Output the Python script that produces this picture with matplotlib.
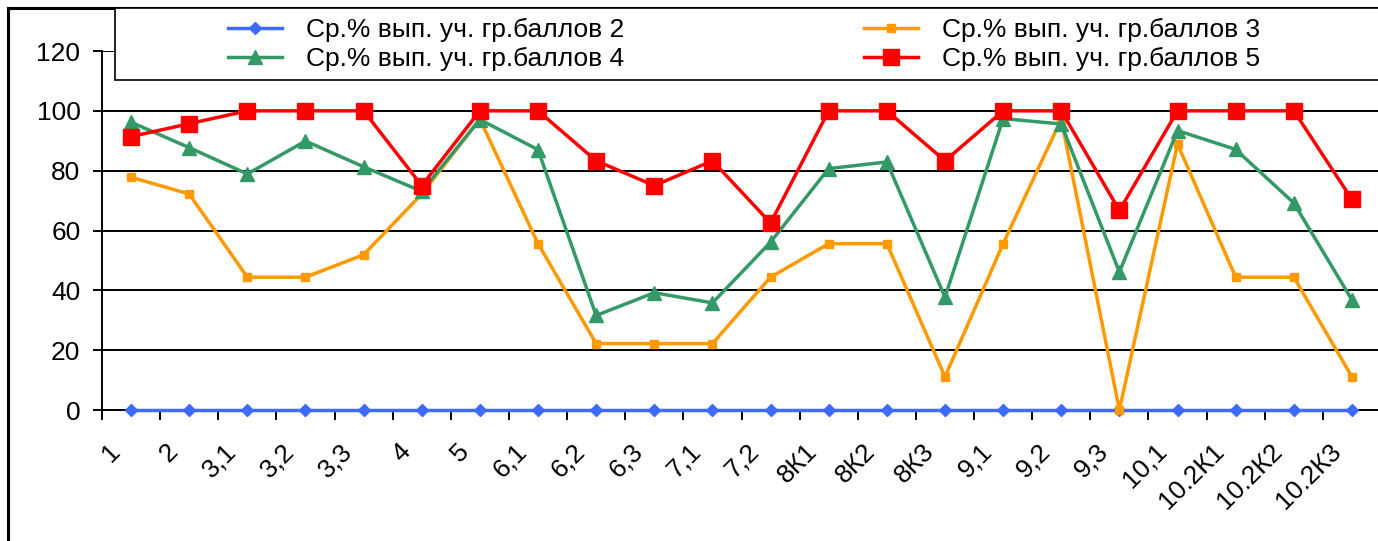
import matplotlib.pyplot as plt
import matplotlib.patches as mpatches
import matplotlib.transforms as mtransforms
import numpy as np

plt.rcParams['font.family'] = ['Liberation Sans', 'DejaVu Sans']

# Категории (задания)
zadaniya = ['1', '2', '3,1', '3,2', '3,3', '4', '5', '6,1', '6,2', '6,3', '7,1', '7,2',
            '8К1', '8К2', '8К3', '9,1', '9,2', '9,3', '10,1', '10.2К1', '10.2К2', '10.2К3']

# Ср.% выполнения по группам баллов
gr_2 = [0, 0, 0, 0, 0, 0, 0, 0, 0, 0, 0, 0, 0, 0, 0, 0, 0, 0, 0, 0, 0, 0]
gr_3 = [77.8, 72.2, 44.4, 44.4, 51.9, 72.2, 97.2, 55.6, 22.2, 22.2, 22.2, 44.4,
        55.6, 55.6, 11.1, 55.6, 97.2, 0, 88.9, 44.4, 44.4, 11.1]
gr_4 = [96.2, 87.7, 78.9, 89.9, 81.3, 73.1, 97.1, 87.0, 31.6, 39.2, 35.8, 56.1,
        80.7, 82.9, 37.7, 97.4, 95.6, 46.1, 93.4, 87.1, 69.2, 36.8]
gr_5 = [91.4, 95.7, 100, 100, 100, 75, 100, 100, 83.3, 75, 83.3, 62.5,
        100, 100, 83.3, 100, 100, 66.7, 100, 100, 100, 70.4]

fig = plt.figure(figsize=(13.78, 5.41), dpi=100)
ax = fig.add_axes([102 / 1378, 131 / 541, 1279 / 1378, 359 / 541])

x = np.arange(len(zadaniya))
l2, = ax.plot(x, gr_2, color='#3D6BFF', lw=2.5, marker='D', ms=6.5, label='Ср.% вып. уч. гр.баллов 2',
              zorder=3, clip_on=False)
l3, = ax.plot(x, gr_3, color='#FF9900', lw=2.5, marker='s', ms=5.5, label='Ср.% вып. уч. гр.баллов 3',
              zorder=4, clip_on=False)
l4, = ax.plot(x, gr_4, color='#339966', lw=2.5, marker='^', ms=10, label='Ср.% вып. уч. гр.баллов 4',
              zorder=5, clip_on=False)
l5, = ax.plot(x, gr_5, color='#FF0000', lw=2.5, marker='s', ms=11, label='Ср.% вып. уч. гр.баллов 5',
              zorder=6, clip_on=False)

ax.set_xlim(-0.5, len(zadaniya) - 0.5)
ax.set_ylim(0, 120)
ax.set_yticks(range(0, 121, 20))
ax.yaxis.grid(True, color='black', lw=1.4)
ax.set_axisbelow(True)
for s in ['top', 'right']:
    ax.spines[s].set_visible(False)
for s in ['left', 'bottom']:
    ax.spines[s].set_linewidth(1.4)

ax.set_xticks(x)
ax.set_xticklabels(zadaniya, rotation=45, ha='right', va='center', rotation_mode='anchor')
ax.set_xticks(np.arange(-0.5, len(zadaniya), 1), minor=True)
ax.tick_params(axis='x', which='major', length=0, pad=27, labelsize=19)
ax.tick_params(axis='x', which='minor', length=7, width=1.4, direction='out')
ax.tick_params(axis='y', length=6.5, width=1.4, labelsize=19, pad=9)
shift = mtransforms.ScaledTranslation(-0.15, 0, fig.dpi_scale_trans)
for lab in ax.get_xticklabels():
    lab.set_transform(lab.get_transform() + shift)

# рамка диаграммы и легенды
fig.patches.append(mpatches.Rectangle((8 / 1378, -0.1), 1.2, 1.1 - 8 / 541, transform=fig.transFigure,
                                      fill=False, edgecolor='black', lw=2.2, zorder=1))
fig.patches.append(mpatches.Rectangle((115 / 1378, 1 - 80 / 541), 1.2, 72 / 541, transform=fig.transFigure,
                                      facecolor='white', edgecolor='black', lw=1.2, zorder=2))

fig.legend(handles=[l2, l4, l3, l5], ncol=2, loc='upper left', bbox_to_anchor=(228 / 1378, 1 - 18 / 541),
           frameon=False, fontsize=19, borderpad=0, borderaxespad=0, handlelength=2.05,
           handletextpad=0.9, labelspacing=0.2, columnspacing=9.1)

fig.savefig('out.png', dpi=100)
